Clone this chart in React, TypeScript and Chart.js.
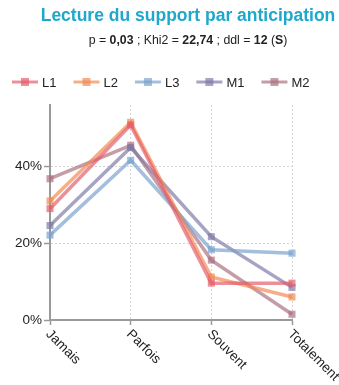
import React, { useEffect, useRef } from 'react';
import { Chart, registerables } from 'chart.js';

Chart.register(...registerables);

const categories = ['Jamais', 'Parfois', 'Souvent', 'Totalement'];
const seriesNames = ['L1', 'L2', 'L3', 'M1', 'M2'];
const L1 = [29.0, 50.8, 9.6, 9.6];
const L2 = [31.0, 51.5, 11.2, 6.0];
const L3 = [22.1, 41.6, 18.3, 17.4];
const M1 = [24.6, 44.9, 21.7, 8.5];
const M2 = [36.8, 45.5, 15.6, 1.5];
const seriesValues = [L1, L2, L3, M1, M2];
const seriesColors = [
  'rgba(228,90,105,0.68)',
  'rgba(242,135,80,0.68)',
  'rgba(120,160,205,0.68)',
  'rgba(125,120,165,0.68)',
  'rgba(170,110,125,0.68)',
];
const yTicks = [0, 20, 40];
const yMax = 56;
const titleText = 'Lecture du support par anticipation';
const subtitleParts: [string, boolean][] = [
  ['p = ', false], ['0,03', true], [' ; Khi2 = ', false], ['22,74', true],
  [' ; ddl = ', false], ['12', true], [' (', false], ['S', true], [')', false],
];

const FONT = '"Liberation Sans", Arial, sans-serif';
const CANVAS_W = 376;
const CANVAS_H = 385;

const decorPlugin = {
  id: 'decor',
  afterDraw(chart: any) {
    const ctx = chart.ctx as CanvasRenderingContext2D;
    const cx = chart.width / 2;
    ctx.save();
    // Title
    ctx.font = `bold 17.5px ${FONT}`;
    ctx.fillStyle = '#1ea8cc';
    ctx.textAlign = 'center';
    ctx.textBaseline = 'alphabetic';
    ctx.fillText(titleText, cx, 21);

    // Subtitle with bold parts
    const subSize = 12.3;
    let total = 0;
    const widths = subtitleParts.map(([t, b]) => {
      ctx.font = `${b ? 'bold ' : ''}${subSize}px ${FONT}`;
      const w = ctx.measureText(t).width;
      total += w;
      return w;
    });
    let sx = cx - total / 2;
    ctx.textAlign = 'left';
    ctx.fillStyle = '#222';
    subtitleParts.forEach(([t, b], i) => {
      ctx.font = `${b ? 'bold ' : ''}${subSize}px ${FONT}`;
      ctx.fillText(t, sx, 44);
      sx += widths[i];
    });

    // Legend
    const ly = 82;
    let lx = 12;
    ctx.font = `13px ${FONT}`;
    ctx.textBaseline = 'middle';
    seriesNames.forEach((name, i) => {
      const col = seriesColors[i];
      ctx.strokeStyle = col;
      ctx.lineWidth = 3;
      ctx.beginPath();
      ctx.moveTo(lx, ly);
      ctx.lineTo(lx + 26, ly);
      ctx.stroke();
      ctx.fillStyle = col;
      ctx.fillRect(lx + 9, ly - 4, 8, 8);
      ctx.fillStyle = '#222';
      ctx.fillText(name, lx + 30, ly + 1);
      lx += 30 + ctx.measureText(name).width + 17;
    });

    // Rotated x labels
    const xs = chart.scales.x;
    ctx.font = `13.5px ${FONT}`;
    ctx.fillStyle = '#222';
    ctx.textAlign = 'left';
    ctx.textBaseline = 'middle';
    categories.forEach((c, i) => {
      const x = xs.getPixelForTick(i);
      ctx.save();
      ctx.translate(x - 2, xs.top + 12);
      ctx.rotate(Math.PI / 4);
      ctx.fillText(c, 0, 0);
      ctx.restore();
    });
    ctx.restore();
  },
};

export default function App() {
  const ref = useRef<HTMLCanvasElement | null>(null);
  useEffect(() => {
    if (!ref.current) return;
    const chart = new Chart(ref.current, {
      type: 'line',
      data: {
        labels: categories,
        datasets: seriesNames.map((name, i) => ({
          label: name,
          data: seriesValues[i],
          borderColor: seriesColors[i],
          backgroundColor: seriesColors[i],
          pointBackgroundColor: seriesColors[i],
          pointBorderWidth: 0,
          pointStyle: 'rect',
          pointRadius: 5,
          borderWidth: 3.5,
          tension: 0,
          fill: false,
        })),
      },
      options: {
        animation: false,
        responsive: false,
        devicePixelRatio: 1,
        layout: { padding: { top: 105, right: 84, bottom: 0, left: 0 } },
        plugins: {
          legend: { display: false },
          title: { display: false },
          tooltip: { enabled: false },
        },
        scales: {
          x: {
            type: 'category',
            offset: false,
            ticks: { display: false },
            grid: {
              offset: false,
              color: '#d4d4d4',
              lineWidth: 1,
              drawTicks: true,
              tickLength: 5,
              tickColor: '#999',
              tickWidth: 1.5,
            },
            border: { display: true, color: '#9a9a9a', width: 2, dash: [2, 2] },
            afterFit: (s: any) => { s.height = 65; },
          },
          y: {
            min: 0,
            max: yMax,
            afterBuildTicks: (s: any) => { s.ticks = yTicks.map((v) => ({ value: v })); },
            ticks: {
              callback: (v: any) => `${v}%`,
              font: { family: FONT, size: 13.5 },
              color: '#222',
              padding: 2,
            },
            grid: {
              color: '#d4d4d4',
              lineWidth: 1,
              drawTicks: true,
              tickLength: 6,
              tickColor: '#999',
              tickWidth: 1.5,
            },
            border: { display: true, color: '#9a9a9a', width: 2, dash: [2, 2] },
            afterFit: (s: any) => { s.width = 50; },
          },
        },
      },
      plugins: [decorPlugin],
    });
    return () => chart.destroy();
  }, []);
  return (
    <div style={{ position: 'fixed', left: 0, top: 0, width: 339, height: 385, overflow: 'hidden', background: '#fff' }}>
      <canvas ref={ref} width={CANVAS_W} height={CANVAS_H} style={{ display: 'block', width: CANVAS_W, height: CANVAS_H }} />
    </div>
  );
}
